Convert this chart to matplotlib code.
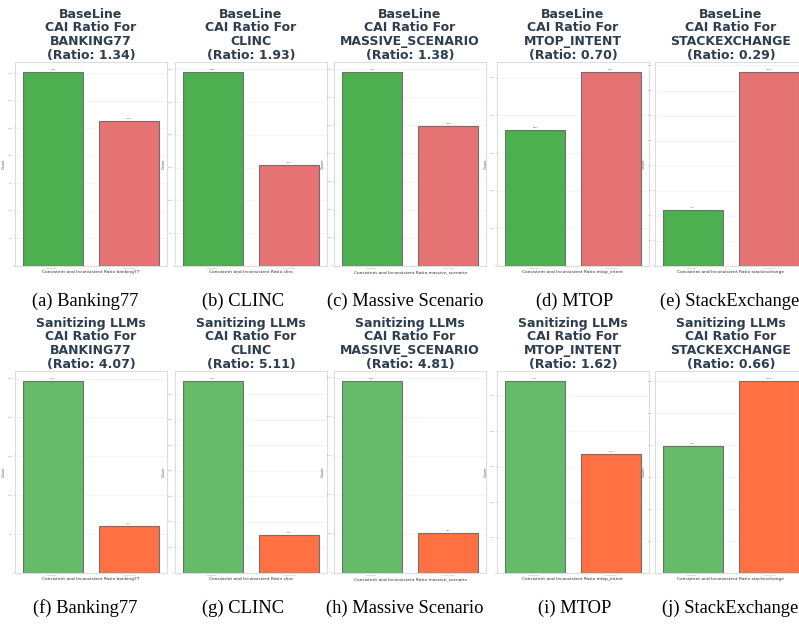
import numpy as np
import matplotlib.pyplot as plt

# consistent / inconsistent counts per dataset
datasets = ["BANKING77", "CLINC", "MASSIVE_SCENARIO", "MTOP_INTENT", "STACKEXCHANGE"]
dataset_keys = ["banking77", "clinc", "massive_scenario", "mtop_intent", "stackexchange"]
captions = ["Banking77", "CLINC", "Massive Scenario", "MTOP", "StackExchange"]

baseline_consistent = [1763, 2963, 1726, 1806, 450]
baseline_inconsistent = [1317, 1537, 1248, 2580, 1550]
sanitized_consistent = [2473, 3764, 2462, 2712, 795]
sanitized_inconsistent = [607, 736, 512, 1674, 1205]

bar_labels = ["Consistent", "Inconsistent"]

rows = [
    ("BaseLine", baseline_consistent, baseline_inconsistent, ["#4caf50", "#e57373"]),
    ("Sanitizing LLMs", sanitized_consistent, sanitized_inconsistent, ["#66bb6a", "#ff7043"]),
]

W, H = 799, 624
fig = plt.figure(figsize=(W / 100, H / 100), dpi=100)

lefts = [15, 175, 334, 497, 655]
caption_x = [85, 243, 405, 575, 730]
ax_w = 152
row_boxes = [(62, 266), (371, 573)]
letters = "abcdefghij"

for r, (name, cons, incons, colors) in enumerate(rows):
    top, bottom = row_boxes[r]
    for c in range(5):
        ax = fig.add_axes([lefts[c] / W, 1 - bottom / H, ax_w / W, (bottom - top) / H])
        vals = [cons[c], incons[c]]
        bars = ax.bar(bar_labels, vals, width=0.8, color=colors,
                      edgecolor="#707070", linewidth=0.8, zorder=3)
        for b, v in zip(bars, vals):
            ax.text(b.get_x() + b.get_width() / 2, v + max(vals) * 0.01, f"{v}",
                    ha="center", va="bottom", fontsize=1.5, color="#555555")
        ratio = cons[c] / incons[c]
        ax.set_title(f"{name}\nCAI Ratio For\n{datasets[c]}\n(Ratio: {ratio:.2f})",
                     fontsize=9, fontweight="bold", color="#2c3e50",
                     linespacing=1.08, pad=2)
        ax.set_xlabel(f"Consistent and Inconsistent Ratio {dataset_keys[c]}",
                      fontsize=3.2, color="#333333", labelpad=0.5)
        ax.set_ylabel("Count", fontsize=2.5, color="#555555", labelpad=1)
        ax.tick_params(axis="both", labelsize=1.5, length=1, width=0.3,
                       colors="#999999", pad=0.5)
        ax.yaxis.grid(True, color="#f0f0f0", linewidth=0.5, zorder=0)
        for s in ax.spines.values():
            s.set_color("#dddddd")
            s.set_linewidth(0.8)
        ax.set_xlim(-0.5, 1.5)
        # subfigure caption
        cy = bottom + 35
        fig.text(caption_x[c] / W, 1 - cy / H,
                 f"({letters[r * 5 + c]}) {captions[c]}",
                 ha="center", va="center", fontsize=13.3,
                 family="Liberation Serif", color="black")

fig.savefig("out.png", dpi=100, facecolor="white")
